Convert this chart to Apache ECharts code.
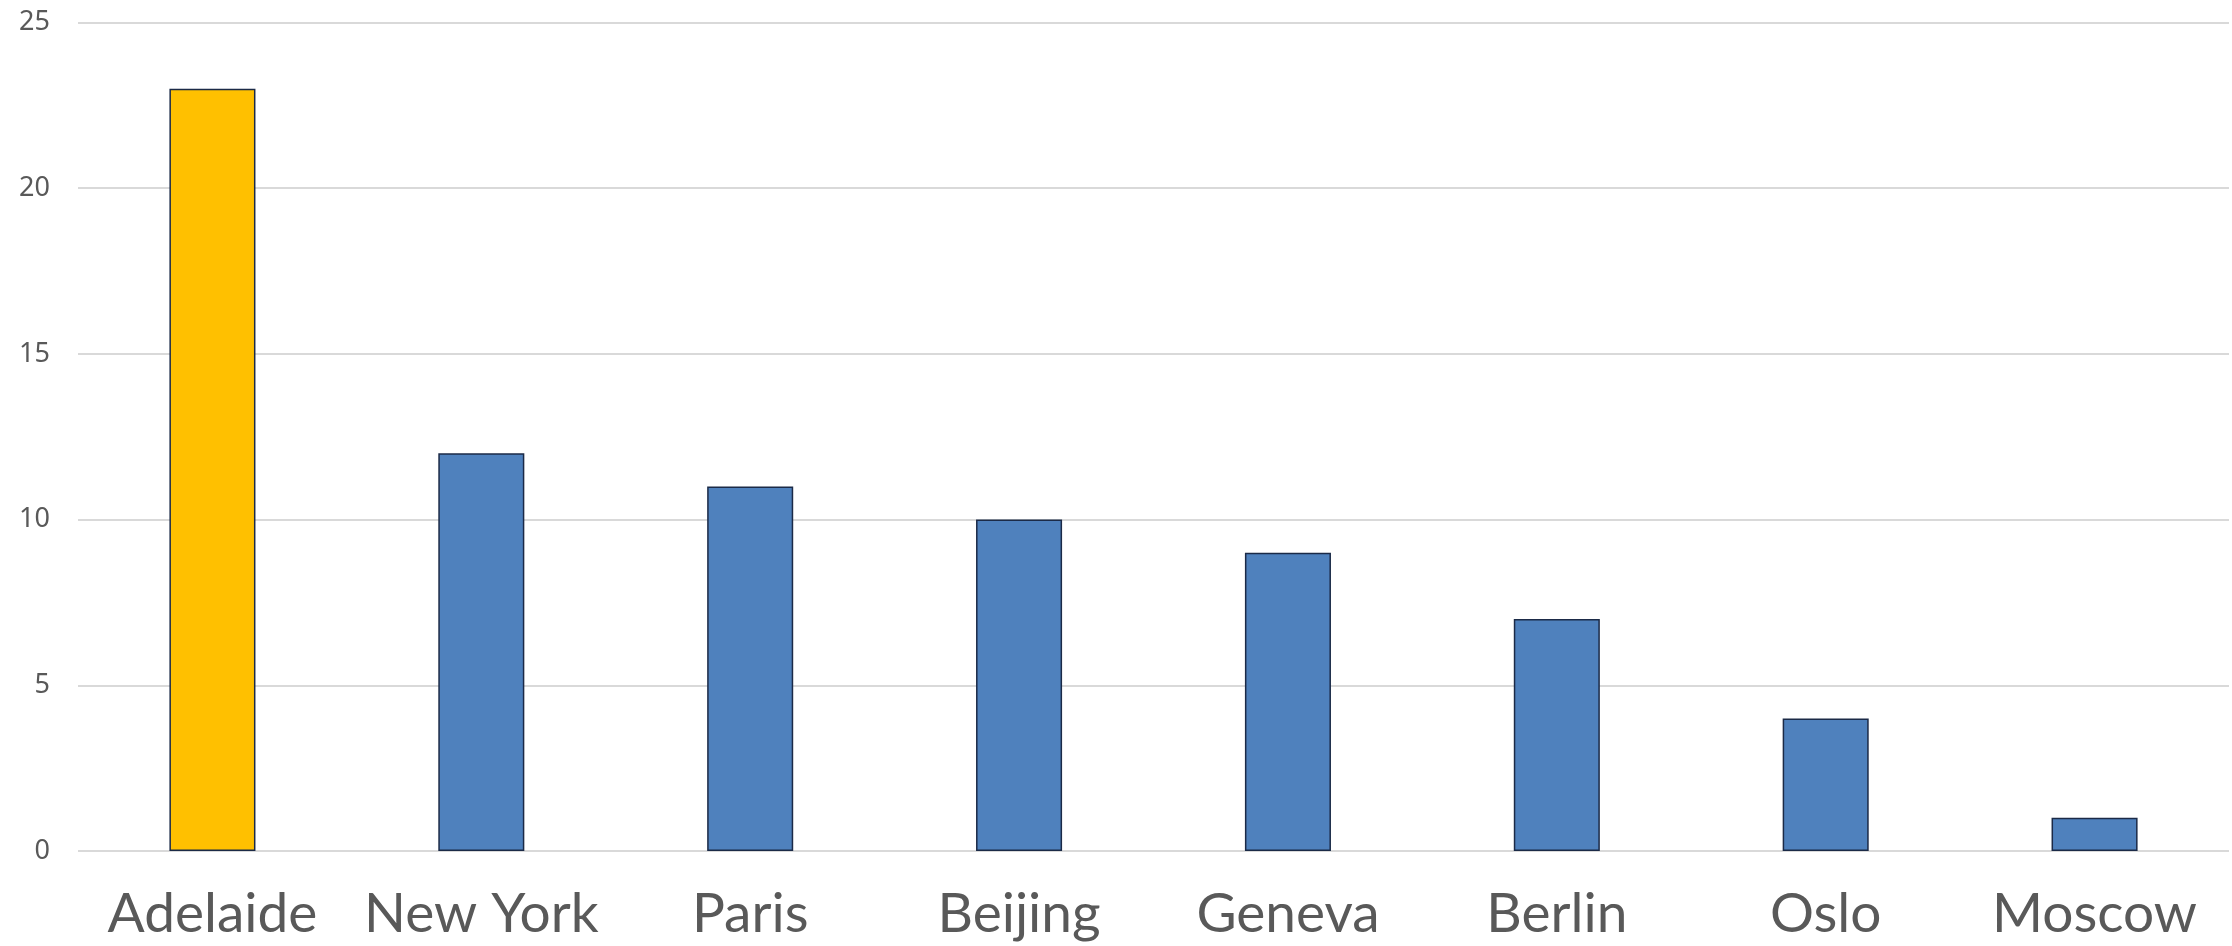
<!DOCTYPE html>
<html><head><meta charset="utf-8">
<script src="https://cdn.jsdelivr.net/npm/echarts@6/dist/echarts.min.js"></script>
<style>html,body{margin:0;padding:0;background:#fff}#c{width:2232px;height:946px}</style>
</head><body><div id="c"></div>
<script>
const categories = ["Adelaide","New York","Paris","Beijing","Geneva","Berlin","Oslo","Moscow"];
const values = [23,12,11,10,9,7,4,1];
const highlightCategory = "Adelaide";
const yTicks = {min:0,max:25,interval:5};

const chart = echarts.init(document.getElementById('c'), null, {renderer:'canvas'});
chart.setOption({
  animation:false,
  grid:{left:78,right:3,top:22.5,bottom:95,containLabel:false},
  xAxis:{type:'category',data:categories,
    axisLine:{show:false},axisTick:{show:false},
    axisLabel:{color:'#595959',fontSize:55,fontFamily:'Lato, "Noto Sans", sans-serif',margin:36,interval:0}},
  yAxis:{type:'value',min:yTicks.min,max:yTicks.max,interval:yTicks.interval,
    axisLine:{show:false},axisTick:{show:false},
    splitLine:{lineStyle:{color:'#d9d9d9',width:2}},
    axisLabel:{color:'#595959',fontSize:27,fontFamily:'"Noto Sans", sans-serif',margin:28}},
  series:[{type:'bar',barCategoryGap:'68%',
    data:values.map((v,i)=>({value:v,itemStyle:{color:categories[i]===highlightCategory?'#FFC000':'#4F81BD'}})),
    itemStyle:{borderColor:'#1B2A47',borderWidth:1.5}}]
});
</script></body></html>
